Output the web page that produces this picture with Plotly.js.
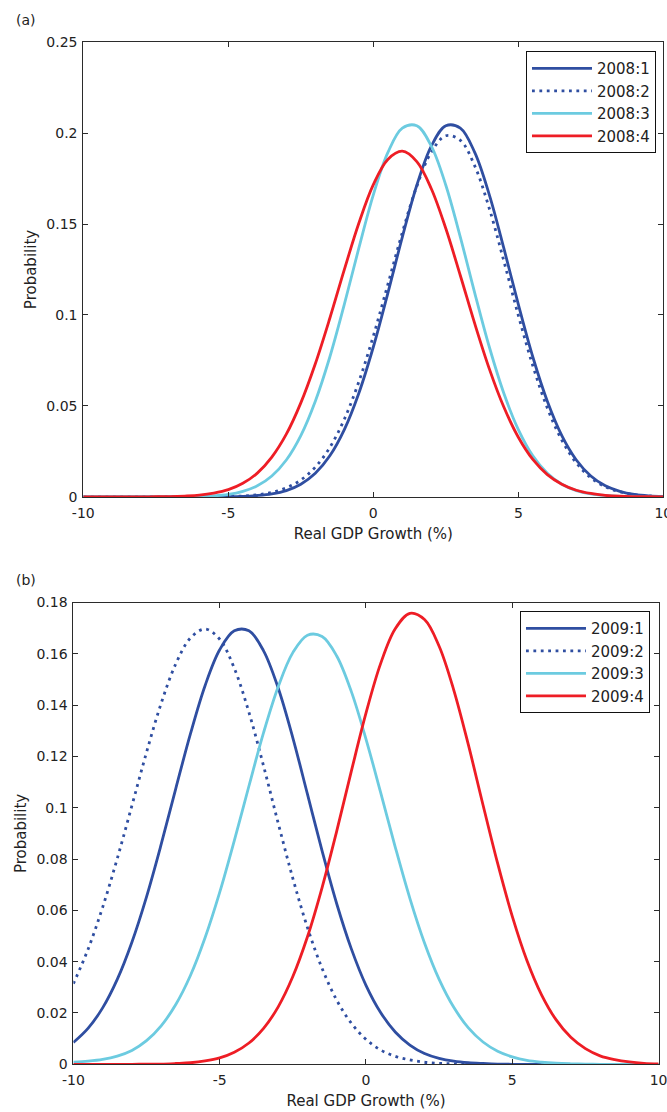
<!DOCTYPE html>
<html>
<head>
<meta charset="utf-8">
<script src="https://cdn.plot.ly/plotly-3.0.1.min.js"></script>
<style>html,body{margin:0;padding:0;background:#fff;}#chart{width:667px;height:1112px;}</style>
</head>
<body>
<div id="chart"></div>
<script>
// ---- data ----
const growthGrid = [-10,-9.5,-9,-8.5,-8,-7.5,-7,-6.5,-6,-5.5,-5,-4.5,-4,-3.5,-3,-2.5,-2,-1.5,-1,-0.5,0,0.5,1,1.5,2,2.5,3,3.5,4,4.5,5,5.5,6,6.5,7,7.5,8,8.5,9,9.5,10];

const names2008 = ["2008:1","2008:2","2008:3","2008:4"];
const names2009 = ["2009:1","2009:2","2009:3","2009:4"];

const p2008q1 = [0,0,0,0,0,0,0,0,0,0.00005,0.0001,0.0003,0.0008,0.0017,0.0035,0.0070,0.0130,0.0226,0.0370,0.0570,0.0824,0.1119,0.1428,0.1713,0.1928,0.2040,0.2027,0.1892,0.1660,0.1367,0.1058,0.0769,0.0526,0.0337,0.0203,0.0115,0.0061,0.0031,0.0014,0.0006,0.0003];
const p2008q2 = [0,0,0,0,0,0,0,0,0,0.0001,0.0002,0.0005,0.0012,0.0025,0.0050,0.0093,0.0164,0.0272,0.0427,0.0633,0.0884,0.1167,0.1453,0.1708,0.1895,0.1985,0.1960,0.1818,0.1585,0.1297,0.0998,0.0721,0.0489,0.0312,0.0187,0.0105,0.0056,0.0028,0.0013,0.0006,0.0002];
const p2008q3 = [0,0,0,0,0,0,0,0.0001,0.0003,0.0006,0.0014,0.0031,0.0061,0.0115,0.0203,0.0337,0.0526,0.0769,0.1058,0.1367,0.1660,0.1892,0.2027,0.2040,0.1928,0.1713,0.1428,0.1119,0.0824,0.0570,0.0370,0.0226,0.0130,0.0070,0.0035,0.0017,0.0008,0.0003,0.0001,0,0];
const p2008q4 = [0,0,0,0,0,0.0001,0.0002,0.0005,0.0010,0.0021,0.0040,0.0075,0.0131,0.0219,0.0345,0.0517,0.0732,0.0982,0.1249,0.1504,0.1716,0.1855,0.1900,0.1843,0.1694,0.1475,0.1217,0.0951,0.0704,0.0494,0.0328,0.0206,0.0123,0.0070,0.0037,0.0019,0.0009,0.0004,0.0002,0.0001,0];

const p2009q1 = [0.0085,0.0140,0.0220,0.0331,0.0476,0.0653,0.0857,0.1075,0.1288,0.1476,0.1616,0.1690,0.1690,0.1612,0.1467,0.1273,0.1053,0.0832,0.0626,0.0450,0.0308,0.0202,0.0126,0.0075,0.0042,0.0023,0.0012,0.0006,0.0003,0.0001,0,0,0,0,0,0,0,0,0,0,0];
const p2009q2 = [0.0314,0.0448,0.0612,0.0802,0.1008,0.1216,0.1407,0.1561,0.1662,0.1697,0.1657,0.1544,0.1372,0.1163,0.0940,0.0725,0.0533,0.0374,0.0250,0.0160,0.0097,0.0056,0.0031,0.0017,0.0008,0.0004,0.0002,0.0001,0,0,0,0,0,0,0,0,0,0,0,0,0];
const p2009q3 = [0.0008,0.0012,0.0019,0.0032,0.0054,0.0092,0.0150,0.0233,0.0346,0.0493,0.0670,0.0872,0.1085,0.1293,0.1472,0.1605,0.1673,0.1668,0.1592,0.1453,0.1268,0.1060,0.0847,0.0647,0.0473,0.0331,0.0222,0.0142,0.0087,0.0051,0.0029,0.0015,0.0008,0.0004,0.0002,0.0001,0,0,0,0,0];
const p2009q4 = [0,0,0,0,0,0.0001,0.0001,0.0003,0.0006,0.0013,0.0025,0.0047,0.0083,0.0140,0.0224,0.0342,0.0497,0.0689,0.0909,0.1143,0.1369,0.1562,0.1698,0.1758,0.1734,0.1630,0.1459,0.1245,0.1011,0.0783,0.0577,0.0405,0.0271,0.0173,0.0105,0.0061,0.0033,0.0018,0.0009,0.0004,0.0002];

const xTickVals = [-10,-5,0,5,10];
const xTickLabels = ["-10","-5","0","5","10"];
const panelLabels = ["(a)","(b)"];
const xTitle = "Real GDP Growth (%)";
const yTitle = "Probability";

// ---- styles ----
const DARKBLUE = "#2f4ea1", CYAN = "#6ccbe0", RED = "#ee1d25";
const lineStyles = [
  {color: DARKBLUE, width: 2.8, dash: "solid"},
  {color: DARKBLUE, width: 2.8, dash: "2.8px,4.6px"},
  {color: CYAN, width: 2.8, dash: "solid"},
  {color: RED, width: 2.8, dash: "solid"}
];

const seriesTop = [p2008q1, p2008q2, p2008q3, p2008q4];
const seriesBot = [p2009q1, p2009q2, p2009q3, p2009q4];

const traces = [];
seriesTop.forEach((ys, i) => traces.push({
  type: "scatter", mode: "lines", x: growthGrid, y: ys, name: names2008[i],
  xaxis: "x", yaxis: "y", legend: "legend",
  line: Object.assign({shape: "spline", smoothing: 1}, lineStyles[i])
}));
seriesBot.forEach((ys, i) => traces.push({
  type: "scatter", mode: "lines", x: growthGrid, y: ys, name: names2009[i],
  xaxis: "x2", yaxis: "y2", legend: "legend2",
  line: Object.assign({shape: "spline", smoothing: 1}, lineStyles[i])
}));

const FONT = "DejaVu Sans, Arial, sans-serif";
const AXC = "#2b2b2b";
function xAxis(dom, anchor) {
  return {
    domain: dom, anchor: anchor, range: [-10, 10], tickmode: "array",
    tickvals: xTickVals, ticktext: xTickLabels, ticks: "inside", ticklen: 5,
    tickcolor: AXC, showline: true, linecolor: AXC, linewidth: 1, mirror: "ticks",
    showgrid: false, zeroline: false, tickfont: {size: 14, color: "#222"},
    ticklabeloverflow: "allow", ticklabelstandoff: 3,
    title: {text: xTitle, font: {size: 15, color: "#222"}, standoff: 8}
  };
}
function yAxis(dom, anchor, top, dt, so) {
  return {
    domain: dom, anchor: anchor, range: [0, top], dtick: dt, tick0: 0,
    ticks: "inside", ticklen: 5, tickcolor: AXC, showline: true, linecolor: AXC,
    linewidth: 1, mirror: "ticks", showgrid: false, zeroline: false,
    tickfont: {size: 14, color: "#222"}, ticklabelstandoff: 2,
    title: {text: yTitle, font: {size: 15, color: "#222"}, standoff: so}
  };
}

const layout = {
  width: 667, height: 1112,
  margin: {l: 0, r: 0, t: 0, b: 0},
  paper_bgcolor: "#fff", plot_bgcolor: "#fff",
  font: {family: FONT, color: "#222"},
  showlegend: true,
  xaxis: xAxis([0.1249, 0.9945], "y"),
  yaxis: yAxis([0.5531, 0.9622], "x", 0.25, 0.05, 6),
  xaxis2: xAxis([0.1100, 0.9874], "y2"),
  yaxis2: yAxis([0.0429, 0.4581], "x2", 0.18, 0.02, 6),
  legend: {x: 0.9835, xanchor: "right", y: 0.9541, yanchor: "top",
    bordercolor: "#111", borderwidth: 1, bgcolor: "#fff", font: {size: 15},
    itemwidth: 60, tracegroupgap: 0},
  legend2: {x: 0.9745, xanchor: "right", y: 0.4505, yanchor: "top",
    bordercolor: "#111", borderwidth: 1, bgcolor: "#fff", font: {size: 15},
    itemwidth: 60, tracegroupgap: 0},
  annotations: [
    {text: panelLabels[0], xref: "paper", yref: "paper", x: 0.039, y: 0.982, xanchor: "center", yanchor: "middle", showarrow: false, font: {size: 14}},
    {text: panelLabels[1], xref: "paper", yref: "paper", x: 0.039, y: 0.478, xanchor: "center", yanchor: "middle", showarrow: false, font: {size: 14}}
  ]
};

Plotly.newPlot("chart", traces, layout, {staticPlot: true, displayModeBar: false});
</script>
</body>
</html>
